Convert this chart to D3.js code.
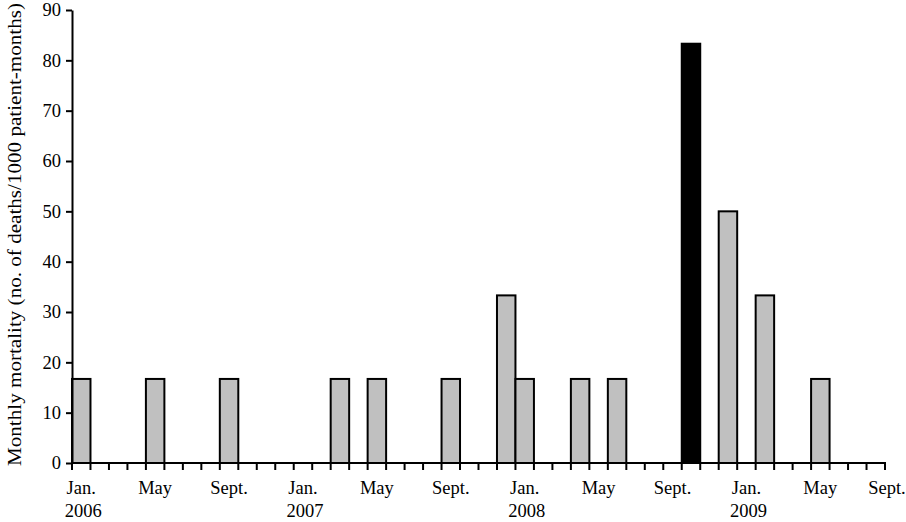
<!DOCTYPE html>
<html>
<head>
<meta charset="utf-8">
<script src="https://cdn.jsdelivr.net/npm/d3@7"></script>
<style>
  html, body { margin: 0; padding: 0; background: #fff; }
  svg { display: block; }
  text { font-family: "Liberation Serif", "Times New Roman", serif; fill: #000; }
</style>
</head>
<body>
<svg id="chart" width="906" height="522"></svg>
<script>
// Categories: months Jan 2006 – Aug 2009
const months = [
  "2006-01","2006-02","2006-03","2006-04","2006-05","2006-06","2006-07","2006-08","2006-09","2006-10","2006-11","2006-12",
  "2007-01","2007-02","2007-03","2007-04","2007-05","2007-06","2007-07","2007-08","2007-09","2007-10","2007-11","2007-12",
  "2008-01","2008-02","2008-03","2008-04","2008-05","2008-06","2008-07","2008-08","2008-09","2008-10","2008-11","2008-12",
  "2009-01","2009-02","2009-03","2009-04","2009-05","2009-06","2009-07","2009-08"
];
// Monthly mortality (deaths / 1000 patient-months)
const mortality = [
  16.7, 0, 0, 0, 16.7, 0, 0, 0, 16.7, 0, 0, 0,
  0, 0, 16.7, 0, 16.7, 0, 0, 0, 16.7, 0, 0, 33.3,
  16.7, 0, 0, 16.7, 0, 16.7, 0, 0, 0, 83.3, 0, 50,
  0, 33.3, 0, 0, 16.7, 0, 0, 0
];
// Highlighted month (black bar)
const highlightMonth = "2008-10";

// Tick labels
const monthLabelKeys  = ["2006-01","2006-05","2006-09","2007-01","2007-05","2007-09","2008-01","2008-05","2008-09","2009-01","2009-05","2009-09"];
const monthLabelTexts = ["Jan.","May","Sept.","Jan.","May","Sept.","Jan.","May","Sept.","Jan.","May","Sept."];
const yearLabelKeys   = ["2006-01","2007-01","2008-01","2009-01"];
const yearLabelTexts  = ["2006","2007","2008","2009"];
const yTicks = [0,10,20,30,40,50,60,70,80,90];
const yTitle = "Monthly mortality (no. of deaths/1000 patient-months)";

const svg = d3.select("#chart");
const mLeft = 72, mRight = 885, mTop = 10, mBottom = 463;

const x = d3.scaleBand().domain(months).range([mLeft, mRight]).paddingInner(0).paddingOuter(0);
const y = d3.scaleLinear().domain([0, 90]).range([mBottom, mTop]);

const data = months.map((m, i) => ({ month: m, value: mortality[i] })).filter(d => d.value > 0);

// Bars
svg.append("g").selectAll("rect")
  .data(data)
  .join("rect")
  .attr("x", d => x(d.month))
  .attr("y", d => y(d.value))
  .attr("width", x.bandwidth())
  .attr("height", d => y(0) - y(d.value))
  .attr("fill", d => d.month === highlightMonth ? "#000" : "#c0c0c0")
  .attr("stroke", "#000")
  .attr("stroke-width", 2);

// Y axis
const yAxis = svg.append("g")
  .attr("transform", `translate(${mLeft},0)`)
  .call(d3.axisLeft(y).tickValues(yTicks).tickSize(6).tickSizeOuter(0).tickPadding(5));
yAxis.select(".domain").attr("stroke", "#000").attr("stroke-width", 2);
yAxis.selectAll(".tick line").attr("stroke", "#000").attr("stroke-width", 2);
yAxis.selectAll(".tick text").style("font-family", "Liberation Serif").style("font-size", "18.5px").attr("fill", "#000");

// X axis line & ticks at month boundaries
const xa = svg.append("g");
xa.append("line")
  .attr("x1", mLeft - 1).attr("x2", x.range()[1] + 1)
  .attr("y1", y(0)).attr("y2", y(0))
  .attr("stroke", "#000").attr("stroke-width", 2);
const boundaries = months.map(m => x(m)).concat([x.range()[1]]);
xa.selectAll("line.tk")
  .data(boundaries)
  .join("line")
  .attr("class", "tk")
  .attr("x1", d => d).attr("x2", d => d)
  .attr("y1", y(0)).attr("y2", y(0) + 7)
  .attr("stroke", "#000").attr("stroke-width", 2);

function labelX(key) {
  return months.includes(key) ? x(key) + x.bandwidth() / 2 : x.range()[1] + 2;
}

xa.selectAll("text.mo")
  .data(monthLabelKeys)
  .join("text")
  .attr("class", "mo")
  .attr("x", d => labelX(d))
  .attr("y", 494)
  .attr("text-anchor", "middle")
  .style("font-size", "18.5px")
  .text((d, i) => monthLabelTexts[i]);

xa.selectAll("text.yr")
  .data(yearLabelKeys)
  .join("text")
  .attr("class", "yr")
  .attr("x", d => labelX(d) + 2)
  .attr("y", 517)
  .attr("text-anchor", "middle")
  .style("font-size", "18.5px")
  .text((d, i) => yearLabelTexts[i]);

// Y title
svg.append("text")
  .attr("transform", `translate(21,234.5) rotate(-90)`)
  .attr("text-anchor", "middle")
  .attr("textLength", 463)
  .attr("lengthAdjust", "spacingAndGlyphs")
  .style("font-size", "19.5px")
  .text(yTitle);
</script>
</body>
</html>
